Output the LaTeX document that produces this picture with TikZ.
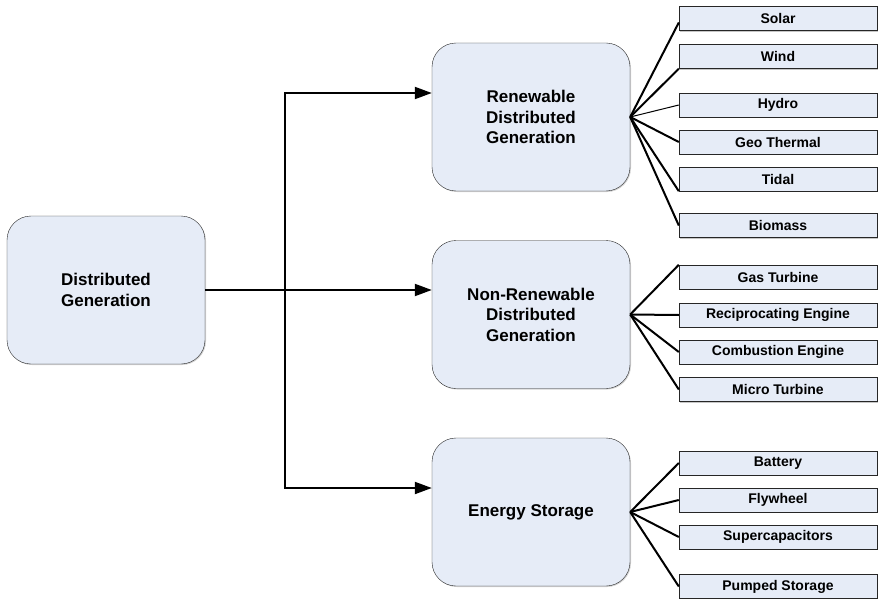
\documentclass[tikz,border=0pt]{standalone}
\usepackage{fontspec}
\setmainfont{Liberation Sans}
\usetikzlibrary{arrows.meta,shadows}
\definecolor{boxfill}{RGB}{230,236,247}

\begin{document}
\begin{tikzpicture}[x=1pt, y=-1pt,
  mainbox/.style={rectangle, draw=black!85, fill=boxfill, rounded corners=24pt, minimum width=198pt, minimum height=148pt, align=center, font=\fontsize{17}{20.5}\selectfont\bfseries, drop shadow={shadow xshift=1pt, shadow yshift=-1pt, opacity=0.35}},
  leaf/.style={rectangle, draw=black!85, fill=boxfill, minimum width=198pt, minimum height=24pt, inner sep=0pt, font=\fontsize{14}{16}\selectfont\bfseries, drop shadow={shadow xshift=1.2pt, shadow yshift=-1.2pt, opacity=0.45}},
  arrow/.style={-{Triangle[length=17pt, width=12pt]}, line width=2pt},
  twoway/.style={{Triangle[length=17pt, width=12pt]}-{Triangle[length=17pt, width=12pt]}, line width=2pt},
  link/.style={line width=2pt},
]
\useasboundingbox (0,0) rectangle (878,599);

% === MAIN BOXES ===
\node[mainbox] (dg) at (106,290) {Distributed\\Generation};
\node[mainbox] (renew) at (531,117) {Renewable\\Distributed\\Generation};
\node[mainbox] (nonren) at (531,314.5) {Non-Renewable\\Distributed\\Generation};
\node[mainbox] (store) at (531,512) {Energy Storage};

% === TRUNK ===
\coordinate (ttop) at (285,93);
\coordinate (tbot) at (285,488);
\draw[twoway] (renew.west |- ttop) -- (ttop) -- (tbot) -- (store.west |- tbot);
\draw[arrow] (dg.east) -- (nonren.west |- dg.east);

% === RENEWABLE SOURCES ===
\node[leaf] (solar) at (778,18.5) {Solar};
\node[leaf] (wind) at (778,56.5) {Wind};
\node[leaf] (hydro) at (778,105) {Hydro};
\node[leaf] (geo) at (778,142) {Geo Thermal};
\node[leaf] (tidal) at (778,179) {Tidal};
\node[leaf] (bio) at (778,225.5) {Biomass};

\draw[link] (renew.east) -- ([yshift=-4pt]solar.west);
\draw[link] (renew.east) -- (wind.south west);
\draw[line width=1pt] (renew.east) -- (hydro.west);
\draw[link] (renew.east) -- (geo.west);
\draw[link] (renew.east) -- (tidal.south west);
\draw[link] (renew.east) -- (bio.west);

% === NON-RENEWABLE SOURCES ===
\node[leaf] (gas) at (778,277) {Gas Turbine};
\node[leaf] (recip) at (778,315) {Reciprocating Engine};
\node[leaf] (comb) at (778,352) {Combustion Engine};
\node[leaf] (micro) at (778,389.5) {Micro Turbine};

\draw[link] (nonren.east) -- (gas.north west);
\draw[link] (nonren.east) -- (recip.west);
\draw[link] (nonren.east) -- (comb.west);
\draw[link] (nonren.east) -- (micro.west);

% === STORAGE ===
\node[leaf] (batt) at (778,463) {Battery};
\node[leaf] (fly) at (778,500) {Flywheel};
\node[leaf] (supcap) at (778,537) {Supercapacitors};
\node[leaf] (pumped) at (778,586.5) {Pumped Storage};

\draw[link] (store.east) -- (batt.west);
\draw[link] (store.east) -- (fly.west);
\draw[link] (store.east) -- (supcap.west);
\draw[link] (store.east) -- (pumped.west);
\end{tikzpicture}
\end{document}
